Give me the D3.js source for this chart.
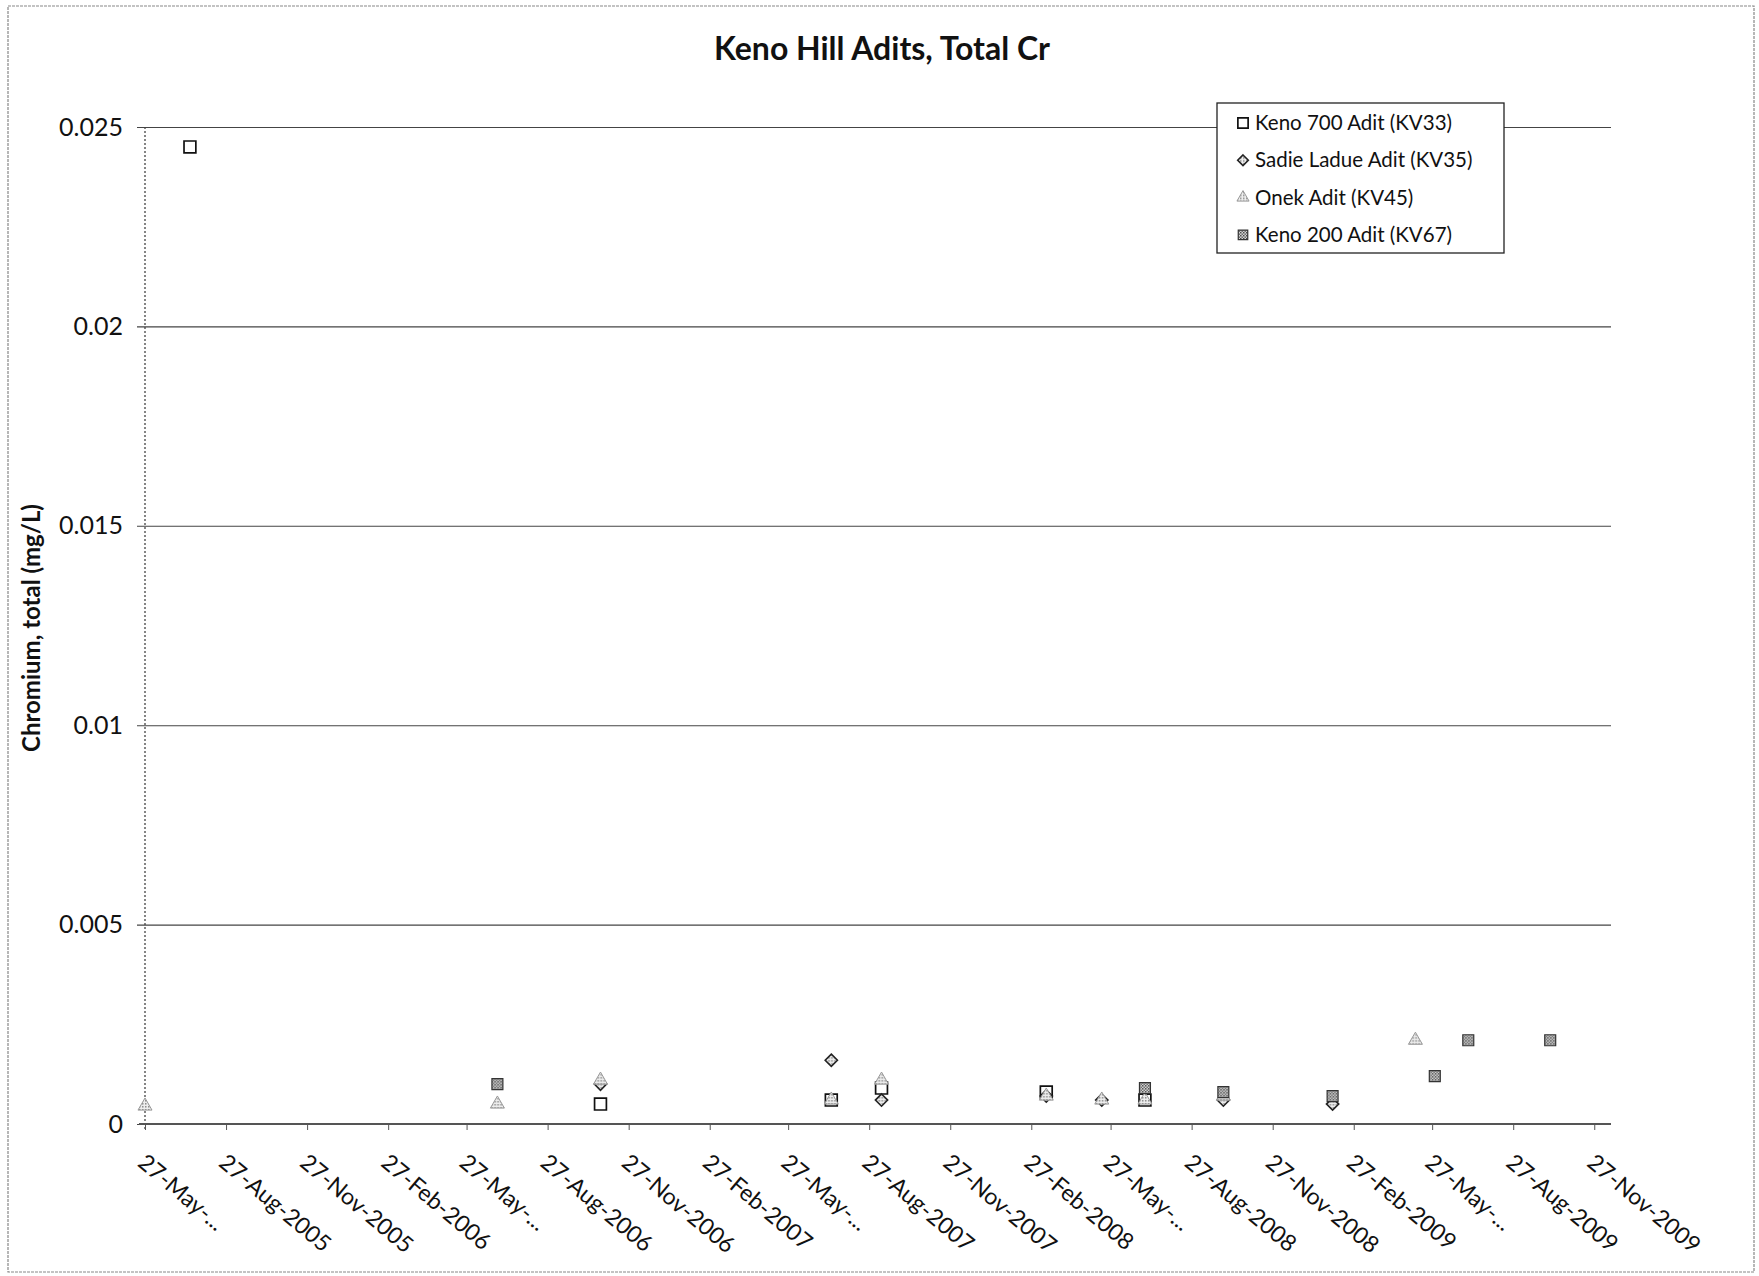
<!DOCTYPE html>
<html><head><meta charset="utf-8">
<script src="https://cdn.jsdelivr.net/npm/d3@7"></script>
<style>body{margin:0;background:#fff} svg{display:block} text{font-family:Lato,"Open Sans",sans-serif}</style>
</head><body>
<script>
// ---- data ----
const chartTitle = "Keno Hill Adits, Total Cr";
const yAxisTitle = "Chromium, total (mg/L)";
const seriesNames = ["Keno 700 Adit (KV33)", "Sadie Ladue Adit (KV35)", "Onek Adit (KV45)", "Keno 200 Adit (KV67)"];

const keno700Dates  = ["2005-07-17","2006-10-26","2007-07-15","2007-09-10","2008-03-15","2008-07-05"];
const keno700Values = [0.0245, 0.0005, 0.0006, 0.0009, 0.0008, 0.0006];

const sadieDates  = ["2006-10-26","2007-07-15","2007-09-10","2008-03-15","2008-05-17","2008-10-02","2009-02-03"];
const sadieValues = [0.0010, 0.0016, 0.0006, 0.0007, 0.0006, 0.0006, 0.0005];

const onekDates  = ["2005-05-27","2006-07-01","2006-10-26","2007-07-15","2007-09-10","2008-03-15","2008-05-17","2008-07-05","2008-10-02","2009-05-08"];
const onekValues = [0.00045, 0.0005, 0.0011, 0.0006, 0.0011, 0.0007, 0.0006, 0.0006, 0.0007, 0.0021];

const keno200Dates  = ["2006-07-01","2008-07-05","2008-10-02","2009-02-03","2009-05-30","2009-07-07","2009-10-08"];
const keno200Values = [0.0010, 0.0009, 0.0008, 0.0007, 0.0012, 0.0021, 0.0021];

const tickDates = ["2005-05-27","2005-08-27","2005-11-27","2006-02-27","2006-05-27","2006-08-27","2006-11-27","2007-02-27","2007-05-27","2007-08-27","2007-11-27","2008-02-27","2008-05-27","2008-08-27","2008-11-27","2009-02-27","2009-05-27","2009-08-27","2009-11-27"];
const tickLabels = ["27-May-...","27-Aug-2005","27-Nov-2005","27-Feb-2006","27-May-...","27-Aug-2006","27-Nov-2006","27-Feb-2007","27-May-...","27-Aug-2007","27-Nov-2007","27-Feb-2008","27-May-...","27-Aug-2008","27-Nov-2008","27-Feb-2009","27-May-...","27-Aug-2009","27-Nov-2009"];
const yTickValues = [0, 0.005, 0.01, 0.015, 0.02, 0.025];
const yTickLabels = ["0", "0.005", "0.01", "0.015", "0.02", "0.025"];
const xDomain = ["2005-05-27", "2009-12-16"];
const yDomain = [0, 0.025];

// ---- drawing ----
const W = 1759, H = 1276;
const parse = s => { const [y,m,d] = s.split("-").map(Number); return new Date(y, m-1, d, 12); };
const plot = {left:145, right:1611, top:127, bottom:1124};

const svg = d3.select("body").append("svg").attr("width", W).attr("height", H);
const defs = svg.append("defs");
const pat = defs.append("pattern").attr("id","chk").attr("width",3).attr("height",3).attr("patternUnits","userSpaceOnUse");
pat.append("rect").attr("width",3).attr("height",3).attr("fill","#ddd");
pat.append("rect").attr("x",0).attr("y",0).attr("width",1.5).attr("height",1.5).attr("fill","#444");
pat.append("rect").attr("x",1.5).attr("y",1.5).attr("width",1.5).attr("height",1.5).attr("fill","#666");
const pat2 = defs.append("pattern").attr("id","dots").attr("width",3).attr("height",3).attr("patternUnits","userSpaceOnUse");
pat2.append("rect").attr("width",3).attr("height",3).attr("fill","#eee");
pat2.append("rect").attr("width",1.5).attr("height",1.5).attr("fill","#888");

svg.append("rect").attr("x",8).attr("y",6).attr("width",1746).attr("height",1266)
  .attr("fill","#fff").attr("stroke","#888").attr("stroke-width",1.2).attr("stroke-dasharray","3,1");

const x = d3.scaleTime().domain(xDomain.map(parse)).range([plot.left, plot.right]);
const y = d3.scaleLinear().domain(yDomain).range([plot.bottom, plot.top]);

// gridlines
const yAxis = d3.axisLeft(y).tickValues(yTickValues).tickFormat((d,i)=>yTickLabels[i])
  .tickSize(-(plot.right - plot.left) - 8).tickPadding(14);
const gy = svg.append("g").attr("transform", `translate(${plot.left - 8},0)`).call(yAxis);
gy.select(".domain").remove();
gy.selectAll(".tick line").attr("stroke","#444").attr("stroke-width",1.1);
gy.selectAll(".tick text").attr("font-size",25).attr("fill","#111").attr("font-family","Lato");

// y axis line (dotted)
svg.append("line").attr("x1",plot.left).attr("x2",plot.left).attr("y1",plot.top).attr("y2",plot.bottom+6)
  .attr("stroke","#444").attr("stroke-width",1.3).attr("stroke-dasharray","2,2");

// x axis
const xAxis = d3.axisBottom(x).tickValues(tickDates.map(parse)).tickFormat("").tickSize(6);
const gx = svg.append("g").attr("transform",`translate(0,${plot.bottom})`).call(xAxis);
gx.select(".domain").attr("d",`M${plot.left-6},0H${plot.right}`).attr("stroke","#555").attr("stroke-width",2.2);
gx.selectAll(".tick line").attr("stroke","#555");
gx.selectAll(".tick").append("text")
  .text((d,i)=>tickLabels[i])
  .attr("transform","translate(-9,41) rotate(40)")
  .attr("text-anchor","start").attr("fill","#111").attr("font-size",23).attr("font-family","Lato");

// titles
svg.append("text").attr("x",882).attr("y",60).attr("text-anchor","middle").attr("font-size",32)
  .attr("font-weight","bold").attr("fill","#111").text(chartTitle);
svg.append("text").attr("transform","translate(40,628) rotate(-90)").attr("text-anchor","middle")
  .attr("font-size",24).attr("font-weight","bold").attr("fill","#111").text(yAxisTitle);

// markers
const diamond = { draw(ctx, size) { const r = Math.sqrt(size/2); ctx.moveTo(0,-r); ctx.lineTo(r,0); ctx.lineTo(0,r); ctx.lineTo(-r,0); ctx.closePath(); } };
const series = [
  {dates:keno700Dates, values:keno700Values, sym:d3.symbolSquare, size:140, fill:"none", stroke:"#111", sw:1.7},
  {dates:sadieDates, values:sadieValues, sym:diamond, size:75, fill:"url(#dots)", stroke:"#222", sw:1.6},
  {dates:onekDates, values:onekValues, sym:d3.symbolTriangle, size:85, fill:"url(#dots)", stroke:"#999", sw:1},
  {dates:keno200Dates, values:keno200Values, sym:d3.symbolSquare, size:120, fill:"url(#chk)", stroke:"#333", sw:1.2}
];
series.forEach(s => {
  svg.append("g").selectAll("path").data(s.dates.map((d,i)=>({d:parse(d), v:s.values[i]})))
    .enter().append("path")
    .attr("transform", p => `translate(${x(p.d)},${y(p.v)})`)
    .attr("d", d3.symbol().type(s.sym).size(s.size)())
    .attr("fill", s.fill).attr("stroke", s.stroke).attr("stroke-width", s.sw);
});

// legend
const lg = svg.append("g").attr("transform","translate(1217,103)");
lg.append("rect").attr("width",287).attr("height",150).attr("fill","#fff").attr("stroke","#222").attr("stroke-width",1.3);
seriesNames.forEach((n,i) => {
  const s = series[i];
  const cy = 20 + i*37.3;
  lg.append("path").attr("transform",`translate(26,${cy})`)
    .attr("d", d3.symbol().type(s.sym).size(s.size*0.75)())
    .attr("fill", s.fill).attr("stroke", s.stroke).attr("stroke-width", s.sw);
  lg.append("text").attr("x",38).attr("y",cy+7).attr("font-size",20.5).attr("fill","#111").text(n);
});
</script>
</body></html>
